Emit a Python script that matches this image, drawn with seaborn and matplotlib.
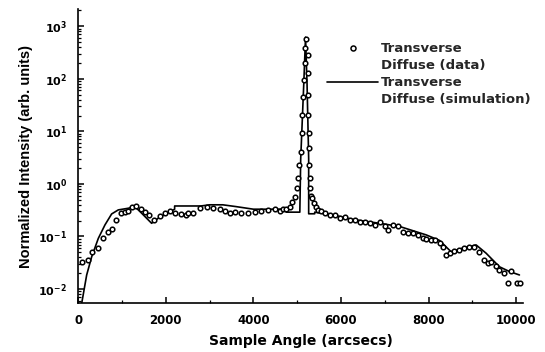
import numpy as np
import pandas as pd
import seaborn as sns
import matplotlib.pyplot as plt
from matplotlib.lines import Line2D
from matplotlib.ticker import LogLocator, MultipleLocator, LogFormatterMathtext, NullFormatter

# measured data (open circles)
data_angle = [91, 214, 320, 442, 571, 685, 761, 853, 974, 1065, 1141, 1218, 1316, 1430,
              1521, 1613, 1734, 1864, 1978, 2092, 2206, 2343, 2460, 2509, 2623, 2776,
              2929, 3080, 3232, 3346, 3460, 3574, 3727, 3878, 4030, 4183, 4334, 4487,
              4600, 4676, 4750, 4844, 4890, 4943, 4996, 5019, 5042, 5080, 5100, 5118,
              5133, 5155, 5171, 5187, 5195, 5240, 5247, 5250, 5255, 5262, 5270, 5278,
              5285, 5300, 5323, 5346, 5376, 5422, 5475, 5551, 5627, 5741, 5855, 5969,
              6083, 6197, 6311, 6425, 6539, 6653, 6767, 6881, 6995, 7071, 7185, 7299,
              7413, 7527, 7641, 7756, 7870, 7947, 8061, 8137, 8251, 8326, 8403, 8479,
              8593, 8707, 8821, 8935, 9049, 9163, 9277, 9353, 9430, 9544, 9620, 9734,
              9810, 9886, 10023, 10099]
data_intensity = [0.032, 0.036, 0.051, 0.060, 0.092, 0.123, 0.137, 0.206, 0.284, 0.297,
                  0.31, 0.36, 0.386, 0.33, 0.297, 0.257, 0.206, 0.246, 0.277, 0.31,
                  0.285, 0.268, 0.26, 0.277, 0.285, 0.344, 0.36, 0.344, 0.33, 0.31,
                  0.285, 0.297, 0.285, 0.277, 0.297, 0.31, 0.32, 0.33, 0.31, 0.33,
                  0.34, 0.37, 0.46, 0.57, 0.83, 1.28, 2.3, 4.1, 9.2, 20.6, 46, 96,
                  199, 384, 577, 286, 128, 49.6, 20.6, 9.2, 4.8, 2.3, 1.28, 0.83, 0.6,
                  0.53, 0.43, 0.36, 0.32, 0.30, 0.277, 0.26, 0.257, 0.222, 0.23, 0.21,
                  0.21, 0.19, 0.185, 0.178, 0.166, 0.185, 0.155, 0.133, 0.166, 0.155,
                  0.123, 0.117, 0.115, 0.107, 0.093, 0.089, 0.084, 0.086, 0.074, 0.062,
                  0.044, 0.049, 0.054, 0.055, 0.06, 0.062, 0.064, 0.051, 0.036, 0.031,
                  0.033, 0.027, 0.023, 0.020, 0.0129, 0.022, 0.0129, 0.0129]

# simulation (solid line)
sim_angle = [80, 191, 305, 457, 609, 761, 913, 1141, 1293, 1446, 1674, 1825, 2053, 2200,
             2200, 2800, 3000, 3300, 3600, 4000, 4700, 4750, 5060, 5080, 5150, 5190,
             5225, 5262, 5262, 5400, 5400, 5817, 6273, 6881, 7337, 7947, 8251, 8517,
             8783, 9087, 9315, 9620, 9848, 10076]
sim_intensity = [0.0055, 0.0185, 0.041, 0.092, 0.166, 0.268, 0.32, 0.344, 0.37, 0.277,
                 0.178, 0.222, 0.284, 0.33, 0.38, 0.38, 0.40, 0.40, 0.37, 0.33, 0.33,
                 0.29, 0.29, 3, 80, 620, 80, 3, 0.27, 0.27, 0.29, 0.257, 0.21, 0.178,
                 0.155, 0.107, 0.084, 0.051, 0.06, 0.069, 0.048, 0.0265, 0.0215, 0.0185]

df_data = pd.DataFrame({"angle": data_angle, "intensity": data_intensity})
df_sim = pd.DataFrame({"angle": sim_angle, "intensity": sim_intensity})

sns.set_theme(style="ticks")
plt.rcParams['font.family'] = ['DejaVu Sans']

fig = plt.figure(figsize=(5.45, 3.52), dpi=100)
ax = fig.add_axes([0.1437, 0.139, 0.8153, 0.8346])

sns.lineplot(data=df_sim, x="angle", y="intensity", ax=ax, color="black",
             linewidth=1.2, sort=False, estimator=None)
sns.scatterplot(data=df_data, x="angle", y="intensity", ax=ax, marker="o",
                facecolor="white", edgecolor="black", linewidth=1.1, s=11, zorder=3)

ax.set_yscale("log")
ax.set_xlim(0, 10150)
ax.set_ylim(0.0054, 2100)
sns.despine(ax=ax)
for sp in ["left", "bottom"]:
    ax.spines[sp].set_linewidth(1.2)
    ax.spines[sp].set_color("black")

ax.xaxis.set_major_locator(MultipleLocator(2000))
ax.xaxis.set_minor_locator(MultipleLocator(1000))
ax.yaxis.set_major_locator(LogLocator(base=10, numticks=10))
ax.yaxis.set_minor_locator(LogLocator(base=10, subs=np.arange(2, 10), numticks=20))
ax.yaxis.set_major_formatter(LogFormatterMathtext())
ax.yaxis.set_minor_formatter(NullFormatter())
ax.tick_params(which="major", direction="in", length=4, width=1.1, color="black", pad=8)
ax.tick_params(which="minor", direction="in", length=2, width=0.9, color="black")
ax.tick_params(axis="x", labelsize=8.5)
ax.tick_params(axis="y", labelsize=8)
for lab in ax.get_xticklabels() + ax.get_yticklabels():
    lab.set_fontweight("bold")
    lab.set_color("black")

ax.set_xlabel("Sample Angle (arcsecs)", fontsize=10, fontweight="bold", color="black",
              labelpad=5)
ax.set_ylabel("Normalized Intensity (arb. units)", fontsize=10.5, fontweight="bold",
              color="black", family="Liberation Sans")

blank = Line2D([], [], linestyle="none")
h_data = Line2D([], [], linestyle="none", marker="o", markerfacecolor="white",
                markeredgecolor="black", markeredgewidth=1.1, markersize=3.6)
h_sim = Line2D([], [], color="black", linewidth=1.2)
leg = fig.legend([h_data, blank, h_sim, blank],
                 ["Transverse", "Diffuse (data)", "Transverse", "Diffuse (simulation)"],
                 loc="upper left", bbox_to_anchor=(0.600, 0.880), frameon=False,
                 fontsize=9.5, handlelength=3.9, handletextpad=0.2, labelspacing=0.3,
                 borderpad=0, borderaxespad=0)
for t in leg.get_texts():
    t.set_fontweight("bold")

fig.savefig("out.png", dpi=100)
